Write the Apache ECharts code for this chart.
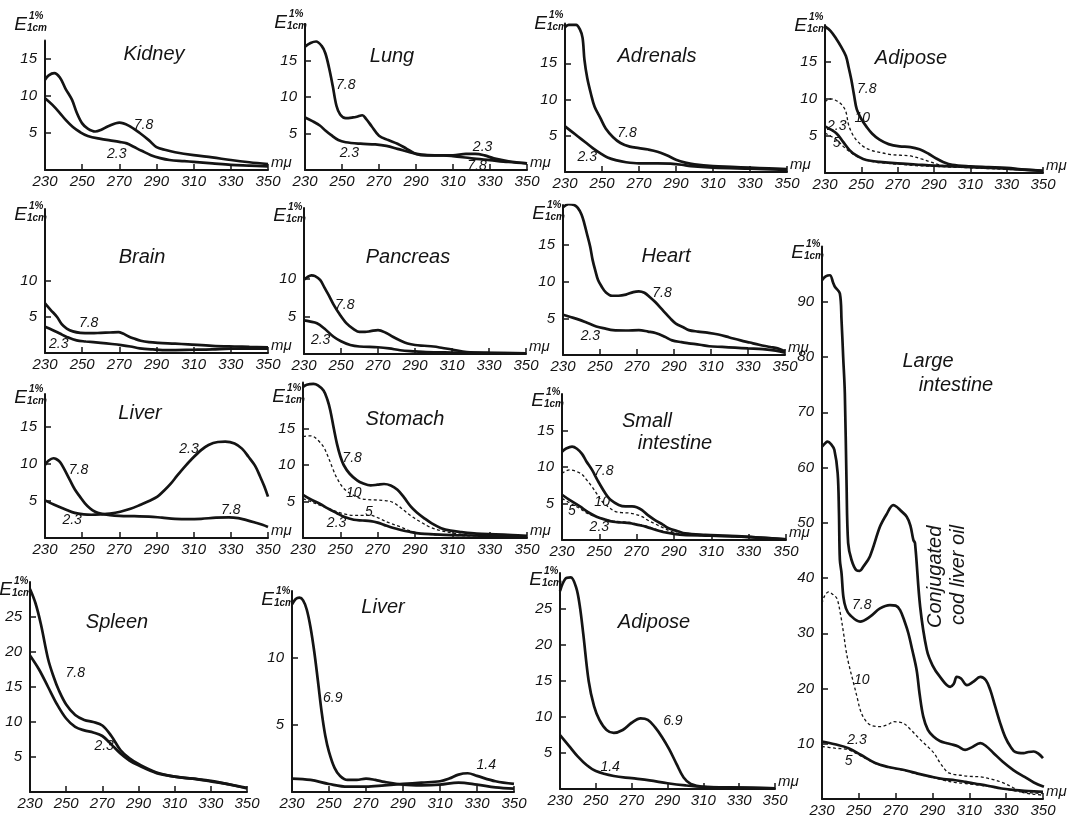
<!DOCTYPE html>
<html><head><meta charset="utf-8">
<script src="https://cdn.jsdelivr.net/npm/echarts@6/dist/echarts.min.js"></script>
<style>html,body{margin:0;padding:0;background:#fff}#c{width:1077px;height:819px}</style>
</head><body><div id="c"></div><script>
// ---------- DATA (wavelength mμ, E 1%/1cm) ----------
const xTicks = [230, 250, 270, 290, 310, 330, 350];

const kidney78 = [[230,12.2],[232,12.8],[235,13.1],[238,12.5],[241,11],[244.5,9.5],[247,7.8],[250,6.3],[253,5.6],[257,5.2],[260,5.4],[264,5.9],[270,6.4],[275,6.0],[281,5.0],[286,4.0],[290,3.1],[295,2.7],[300,2.4],[310,2.0],[320,1.7],[330,1.35],[340,1.05],[350,0.8]];
const kidney23 = [[230,9.7],[234,8.8],[238,7.7],[241,6.8],[245,5.8],[249,5.1],[253,4.6],[260,4.2],[265,4.0],[270,3.8],[274,3.6],[278,3.1],[282,2.6],[287,2.0],[292,1.6],[297,1.35],[305,1.2],[310,1.1],[320,0.9],[330,0.7],[340,0.6],[350,0.5]];

const lung78 = [[230,16.9],[233,17.4],[236,17.6],[239,17.0],[241,16.0],[243,14.0],[245,11.5],[247,8.8],[249,7.6],[252,7.1],[256,7.2],[258,7.3],[261,7.5],[263,7.0],[266,6.0],[270,4.7],[275,4.1],[280,3.6],[285,2.9],[290,2.2],[296,2.0],[305,2.0],[310,1.9],[320,1.6],[330,1.35],[340,1.1],[350,0.9]];
const lung23 = [[230,7.2],[234,6.7],[238,6.1],[241,5.4],[244,4.8],[248,4.1],[252,3.8],[260,3.6],[268,3.5],[274,3.3],[280,2.9],[287,2.4],[293,2.1],[300,2.0],[310,2.0],[317,2.2],[322,2.2],[327,2.0],[332,1.6],[340,1.2],[350,0.9]];

const adrenals78 = [[230,20.0],[232,20.3],[236,20.3],[238,19.7],[239.5,18.5],[240.5,15.5],[242,13.0],[244,10.8],[246,9.0],[249,7.5],[252,6.0],[256,4.8],[260,4.0],[265,3.5],[270,3.3],[275,3.1],[280,2.8],[285,2.3],[290,1.7],[295,1.3],[300,1.05],[310,0.8],[320,0.7],[330,0.6],[340,0.5],[350,0.4]];
const adrenals23 = [[230,6.3],[234,5.5],[237,4.9],[241,4.1],[245,3.3],[249,2.6],[253,2.0],[258,1.6],[263,1.35],[270,1.2],[280,1.2],[287,1.15],[293,1.0],[298,0.8],[310,0.6],[330,0.45],[350,0.3]];

const adiposeA78 = [[230,19.8],[233,19.2],[236,18.2],[239,17.0],[241.5,15.8],[243,14.3],[244.5,12.6],[246,10.5],[247.5,8.6],[250,7.3],[253,6.2],[256,5.3],[260,4.5],[265,3.9],[271,3.6],[277,3.5],[282,3.2],[287,2.6],[291,2.0],[295,1.5],[300,1.1],[310,0.9],[320,0.8],[330,0.7],[340,0.45],[350,0.3]];
const adiposeA10 = [[230,9.6],[232,9.95],[234,10.0],[236,9.8],[238,9.5],[240,9.0],[241.5,8.3],[243,6.5],[245,5.3],[247.5,4.4],[251,3.6],[255,3.1],[260,2.8],[266,2.5],[272,2.4],[277,2.3],[283,1.9],[288,1.5],[293,1.1],[298,0.9],[310,0.8],[330,0.6],[350,0.3]];
const adiposeA23 = [[230,6.3],[233,5.9],[236.5,5.3],[240,4.2],[243.5,3.1],[247,2.4],[251,1.9],[255,1.65],[260,1.5],[270,1.3],[280,1.15],[290,1.0],[300,0.9],[310,0.8],[330,0.6],[350,0.3]];
const adiposeA5 = [[230,5.4],[233,5.0],[236.5,4.5],[240,3.6],[243.5,2.9],[247,2.3],[251,1.9],[255,1.6],[260,1.4],[270,1.2],[280,1.0],[290,0.9],[300,0.8],[310,0.7],[330,0.5],[350,0.3]];

const brain78 = [[230,6.9],[233,6.0],[236.5,5.0],[239,4.0],[241.7,3.4],[245,3.0],[249,2.8],[255,2.75],[260,2.8],[265,2.85],[269.5,2.9],[272,2.7],[275,2.3],[278,2.0],[281.5,1.7],[286,1.5],[291,1.4],[300,1.3],[307,1.2],[320,1.0],[332,0.9],[340,0.85],[350,0.8]];
const brain23 = [[230,3.65],[234,3.2],[238,2.7],[242,2.2],[247,1.75],[252,1.6],[260,1.4],[266,1.25],[271,1.1],[276,0.9],[281,0.65],[288,0.5],[296,0.4],[310,0.45],[320,0.5],[330,0.6],[340,0.6],[350,0.6]];

const pancreas78 = [[230,9.9],[232,10.3],[234,10.5],[236,10.4],[238.7,9.9],[241,8.9],[243.5,7.8],[246,6.6],[249,5.4],[253,4.1],[257,3.3],[260,2.95],[263,2.95],[266,3.05],[270,3.2],[274.5,2.8],[278,2.3],[282,1.8],[286,1.4],[290,1.2],[295,1.1],[300,1.0],[305,0.8],[310,0.6],[318,0.25],[330,0.15],[350,0.1]];
const pancreas23 = [[230,4.5],[233,4.35],[237,4.1],[241,3.4],[246,2.3],[250,1.7],[255,1.2],[260,1.0],[270,0.9],[276,0.75],[282,0.5],[290,0.35],[296,0.25],[310,0.2],[330,0.15],[350,0.1]];

const heart78 = [[230,20.2],[233,20.6],[236,20.5],[238,20.1],[240,19.2],[241.5,18.0],[243,16.5],[244.7,14.8],[246,13.0],[247.5,11.5],[249,10.2],[251,9.3],[253,8.6],[256.5,8.1],[260,8.1],[264,8.25],[268,8.6],[271,8.7],[274,8.5],[277,7.9],[280,7.2],[284,6.1],[288,5.0],[291,4.3],[295,3.8],[298,3.4],[303,3.2],[308,3.05],[314,2.8],[320,2.4],[326,2.0],[331,1.7],[336,1.4],[342,1.1],[346,0.9],[350,0.5]];
const heart23 = [[230,5.5],[234,5.2],[239,4.8],[243,4.4],[248,3.9],[253,3.6],[257,3.4],[264,3.35],[271,3.4],[276,3.2],[280,3.0],[285,2.5],[289,2.0],[294,1.75],[298,1.6],[304,1.4],[309,1.2],[316,1.1],[323,1.0],[330,0.9],[338,0.8],[345,0.6],[350,0.3]];

const liverA78 = [[230,9.9],[232,10.5],[234.5,10.8],[236,10.7],[238,10.3],[240,9.5],[243.5,7.8],[246,6.6],[248.8,5.6],[251.5,4.7],[254.3,4.0],[257,3.55],[260,3.3],[265,3.1],[270,3.0],[278,2.95],[286,2.9],[293,2.75],[300,2.6],[307,2.55],[314,2.6],[322,2.75],[329,2.8],[334,2.7],[338,2.45],[343,2.1],[347,1.8],[350,1.5]];
const liverA23 = [[230,5.1],[235,4.5],[241.7,3.8],[246,3.4],[250.8,3.2],[255,3.15],[260,3.2],[265,3.3],[270.5,3.55],[276,3.95],[281.4,4.5],[286,5.0],[290.5,5.6],[294,6.4],[297.8,7.4],[301,8.4],[305,9.6],[309,10.7],[314,11.9],[318,12.6],[323,13.0],[327,13.05],[332,12.8],[336,12.1],[339.5,11.0],[343,9.8],[345.8,8.3],[348,7.0],[350,5.6]];

const stomach78 = [[230,20.7],[232,21.0],[235.6,21.1],[238,20.9],[241,20.2],[243,19.0],[244.6,17.5],[246.5,15.0],[248.2,12.9],[250,11.2],[251.8,10.0],[255,8.8],[259,7.9],[262,7.5],[266.2,7.2],[270,7.3],[273.4,7.4],[277,7.2],[280.6,6.6],[284,5.6],[287.8,4.3],[291,3.5],[295,2.7],[299,2.0],[304,1.35],[309,1.0],[315,0.8],[323,0.6],[333,0.5],[342,0.4],[350,0.3]];
const stomach10 = [[230,13.9],[233,14.0],[235.6,13.9],[238,13.4],[241,12.5],[243,11.4],[245.5,9.8],[248,8.3],[251.8,6.8],[256,6.0],[260.8,5.4],[265,5.25],[269.8,5.2],[273,5.15],[277,5.0],[280,4.6],[284,3.8],[288,3.0],[293,2.2],[298,1.5],[304,1.0],[310,0.7],[318,0.4],[330,0.3],[350,0.2]];
const stomach5 = [[230,5.4],[234,5.0],[239,4.5],[243,4.1],[248.2,3.6],[252,3.3],[257.2,3.1],[262,3.1],[266.2,3.1],[269,2.9],[271.6,2.6],[276,2.1],[282.4,1.5],[287,1.0],[293,0.6],[300,0.45],[310,0.35],[330,0.25],[350,0.2]];
const stomach23 = [[230,5.9],[234,5.3],[239,4.7],[243,4.1],[248.2,3.4],[252,2.9],[257.2,2.5],[262,2.4],[266.2,2.3],[270,2.1],[273.4,1.8],[278,1.4],[282.4,1.1],[287,0.85],[293,0.6],[300,0.5],[310,0.4],[330,0.3],[350,0.2]];

const smallInt78 = [[230,12.1],[232,12.5],[235.4,12.8],[238,12.5],[240.7,11.8],[243,10.8],[246.1,9.6],[249,8.2],[253.2,6.4],[256,5.5],[260.4,4.8],[264,4.6],[267.5,4.6],[270,4.5],[272.9,4.1],[276,3.4],[280,2.7],[284,2.1],[287.1,1.6],[292,1.2],[296,0.9],[306.8,0.7],[316,0.6],[326.3,0.5],[338,0.3],[350,0.1]];
const smallInt10 = [[230,9.1],[232,9.45],[234,9.6],[237,9.45],[240.7,9.0],[243,8.3],[246.1,7.3],[249,6.2],[251.4,5.3],[255,4.5],[258.6,3.9],[262,3.75],[265.7,3.7],[269,3.55],[272.9,3.2],[276,2.7],[280,2.2],[284,1.7],[289,1.1],[293,0.85],[297.8,0.7],[310,0.55],[330,0.4],[350,0.1]];
const smallInt23 = [[230,6.2],[234,5.5],[239.6,4.6],[244,3.8],[248.5,3.2],[253,2.8],[257.4,2.5],[262,2.4],[266.3,2.3],[270,2.1],[275.2,1.8],[280,1.4],[284.1,1.1],[290,0.85],[294.8,0.7],[310,0.6],[330,0.4],[350,0.1]];
const smallInt5 = [[230,5.7],[234,5.1],[239.6,4.3],[244,3.6],[248.5,3.2],[253,2.85],[257.4,2.6],[262,2.5],[266.3,2.4],[270,2.2],[275.2,1.9],[280,1.5],[284.1,1.2],[290,0.9],[294.8,0.7],[310,0.6],[330,0.4],[350,0.1]];

const largeCod = [[230,93.9],[232,94.6],[234.3,94.8],[236,93.5],[237,92.7],[239.7,91.5],[240.6,86.7],[241.5,80],[242.4,73.4],[243.3,57.7],[244.2,46.3],[246,43.3],[248.7,41.4],[250.5,41.3],[252.3,42],[256,43.9],[261.5,49.3],[265,51.5],[268.7,53.2],[270.5,52.9],[272.4,52.3],[276,51.1],[278,49.5],[279.6,46.9],[280.5,46.3],[283.3,34.8],[286.9,27],[290,24.2],[294.1,22.1],[299.6,20.3],[301.5,20.8],[303.2,22.1],[305.5,21.8],[308.7,20.6],[312,21.2],[316,22.1],[319,21.5],[321.4,19.7],[324,16.8],[326.8,13.7],[329.5,11.2],[332.3,9.5],[335,8.5],[339.5,8.3],[342,8.5],[345,8.6],[347.5,8.2],[350,7.4]];
const large78 = [[230,63.8],[232,64.5],[233,64.7],[235,64.2],[236.7,63.2],[238.5,59],[239.2,52],[239.7,43.3],[240.6,40.9],[241.6,36.6],[243,34.5],[245.2,33.3],[250.7,32.1],[256.1,33],[261.5,34.5],[266.9,35.1],[270,35.0],[272.4,34.2],[275,32],[276.9,30],[279,27],[281.4,23.3],[283,19],[285,14.9],[287.5,12.5],[290.5,11.3],[294,10.5],[297.8,10.1],[301.4,9.8],[304,9.5],[307.7,8.9],[311,9.3],[316,10.1],[319,9.6],[323.2,8.3],[328,6.8],[334.1,5.2],[340,4.0],[345,3.0],[350.5,2.2]];
const large10 = [[230,35.4],[231.5,36.8],[233.6,37.5],[236,37.0],[238.1,36.3],[240,33.5],[241.7,30],[243,27],[244.4,24.6],[247.2,20.9],[249,18.5],[250.8,16.1],[253,14.5],[256.3,13.4],[261.7,13.1],[266,13.5],[269,14.0],[272,13.9],[274.4,13.7],[278,12.6],[283.5,10.7],[287,9.6],[290.8,8.3],[294,6.6],[298,4.9],[301,4.5],[305.2,4.3],[310,4.1],[316,4.0],[322,3.6],[327,3.1],[333,2.2],[338,1.3],[344,0.9],[350,0.7]];
const large23 = [[230,10.4],[237,9.9],[244.4,9.2],[251,8.0],[258.9,6.5],[266,5.8],[275.2,5.2],[282,4.6],[289.7,4.0],[296,3.6],[302.3,3.4],[308,3.1],[313,2.8],[320,2.4],[327.5,1.9],[335,1.6],[342,1.45],[350,1.3]];
const large5 = [[230,9.5],[237,9.2],[244.4,8.9],[251,7.8],[260,6.3],[267,5.7],[275,5.1],[282,4.5],[290,3.9],[296,3.4],[302,3.0],[308,2.8],[313,2.6],[320,2.3],[327,1.9],[333,1.6],[338,1.3],[344,1.1],[350,1.0]];

const spleen78 = [[230,29],[233,27],[236,24],[240,19],[243,16.5],[246,14.5],[250,12.5],[255,11],[260,10.3],[265,10],[270,9.5],[275,8],[280,6],[285,4.8],[290,4],[300,2.8],[310,2.2],[320,1.9],[330,1.6],[340,1.1],[350,0.5]];
const spleen23 = [[230,19.5],[235,17.5],[240,15],[245,12.5],[250,10.5],[255,9.3],[260,8.8],[265,8.5],[270,8.0],[275,6.8],[280,5.5],[285,4.5],[290,3.8],[300,2.7],[310,2.2],[320,1.9],[330,1.5],[340,1.1],[350,0.6]];

const liverB69 = [[230,14.0],[232,14.4],[234,14.5],[236,14.3],[238,13.6],[240,12.3],[242,10.5],[244,8.3],[246,6.0],[248,4.2],[250,3.0],[253,1.8],[256,1.2],[260,0.9],[265,0.9],[270,1.0],[275,0.9],[280,0.75],[290,0.55],[300,0.5],[310,0.55],[320,0.7],[330,0.55],[340,0.35],[350,0.25]];
const liverB14 = [[230,1.0],[240,0.9],[250,0.6],[260,0.4],[270,0.4],[280,0.5],[290,0.6],[300,0.7],[310,0.8],[315,1.0],[320,1.3],[325,1.4],[330,1.2],[340,0.8],[350,0.6]];

const adiposeB69 = [[230,27.5],[233,29.2],[236,29.4],[239,28],[241,25.5],[243,21.5],[246,15],[249,11.5],[252,9.6],[256,8.2],[260,7.8],[265,8.2],[270,9.2],[275,9.8],[279,9.6],[283,8.6],[287,7.2],[291,5.5],[295,3.5],[299,1.6],[303,0.7],[310,0.3],[330,0.2],[350,0.1]];
const adiposeB14 = [[230,7.5],[235,6],[240,4.5],[245,3.3],[250,2.5],[260,1.8],[270,1.5],[280,1.2],[290,0.8],[300,0.5],[310,0.3],[330,0.2],[350,0.1]];

// ---------- LAYOUT ----------
const FONT = '"Liberation Sans", Arial, sans-serif';
const panels = [
  {box:[45,40.5,223,129.5], max:17.5, yl:[5,10,15], curves:[[kidney78],[kidney23]], notes:[[283,6.0,'7.8'],[268.6,2.1,'2.3']], title:[['Kidney',154,54]], eY:25, unit:true},
  {box:[305,24,222,146], max:20, yl:[5,10,15], curves:[[lung78],[lung23]], notes:[[252,11.6,'7.8'],[254,2.3,'2.3'],[326,3.2,'2.3'],[323,0.5,'7.8']], title:[['Lung',392,56]], eY:23, unit:true},
  {box:[565,23.4,222,148.6], max:20.5, yl:[5,10,15], curves:[[adrenals78],[adrenals23]], notes:[[263.5,5.4,'7.8'],[242,2.0,'2.3']], title:[['Adrenals',657,56]], eY:24, unit:true},
  {box:[825,25,218,148], max:20, yl:[5,10,15], curves:[[adiposeA78],[adiposeA10,1],[adiposeA23],[adiposeA5,1]], notes:[[253,11.4,'7.8'],[250.5,7.4,'10'],[236.5,6.4,'2.3'],[236.4,4.0,'5']], title:[['Adipose',911,58]], eY:26, unit:true},
  {box:[45,209,223,144], max:20, yl:[5,10], curves:[[brain78],[brain23]], notes:[[253.5,4.1,'7.8'],[237.4,1.25,'2.3']], title:[['Brain',142,257]], eY:215, unit:true},
  {box:[304,208,222,146], max:19.5, yl:[5,10], curves:[[pancreas78],[pancreas23]], notes:[[252,6.5,'7.8'],[239,1.9,'2.3']], title:[['Pancreas',408,257]], eY:216, unit:true},
  {box:[563,205,222,150], max:20.5, yl:[5,10,15], curves:[[heart78],[heart23]], notes:[[283.5,8.4,'7.8'],[244.8,2.6,'2.3']], title:[['Heart',666,256]], eY:214, unit:true},
  {box:[822,246.5,221,552.5], max:100, iv:10, yl:[10,20,30,40,50,60,70,80,90], curves:[[largeCod],[large78],[large10,1],[large23],[large5,1]], notes:[[251.6,35.1,'7.8'],[251.6,21.5,'10'],[249,10.6,'2.3'],[244.4,6.8,'5']], title:[['Large',928,361],['intestine',956,385]], eY:253, unit:true},
  {box:[45,394,223,144], max:19.5, yl:[5,10,15], curves:[[liverA78],[liverA23]], notes:[[248,9.2,'7.8'],[244.6,2.4,'2.3'],[307.5,12.1,'2.3'],[330,3.8,'7.8']], title:[['Liver',140,413]], eY:398, unit:true},
  {box:[303,382.5,224,155.5], max:21.3, yl:[5,10,15], curves:[[stomach78],[stomach10,1],[stomach5,1],[stomach23]], notes:[[256.3,10.9,'7.8'],[257.2,6.1,'10'],[265.3,3.6,'5'],[248,2.0,'2.3']], title:[['Stomach',405,419]], eY:397, unit:true},
  {box:[562,394,224,146], max:20, yl:[5,10,15], curves:[[smallInt78],[smallInt10,1],[smallInt23],[smallInt5,1]], notes:[[252.4,9.4,'7.8'],[251.5,5.2,'10'],[235.3,3.9,'5'],[250,1.8,'2.3']], title:[['Small',647,421],['intestine',675,443]], eY:401, unit:true},
  {box:[30,582,217,210], max:30, yl:[5,10,15,20,25], curves:[[spleen78],[spleen23]], notes:[[255,17,'7.8'],[271,6.6,'2.3']], title:[['Spleen',117,622]], eY:590, unit:false},
  {box:[292,591,222,201], max:15, yl:[5,10], curves:[[liverB69],[liverB14]], notes:[[252,7.0,'6.9'],[335,2.0,'1.4']], title:[['Liver',383,607]], eY:600, unit:false},
  {box:[560,573,215,216], max:30, yl:[5,10,15,20,25], curves:[[adiposeB69],[adiposeB14]], notes:[[293,9.4,'6.9'],[258,3,'1.4']], title:[['Adipose',654,622]], eY:580, unit:true}
];

const grid = [], xAxis = [], yAxis = [], series = [], graphic = [];
const ink = '#141414';
panels.forEach((p, i) => {
  const [l, t, w, h] = p.box;
  grid.push({left: l, top: t, width: w, height: h, containLabel: false});
  xAxis.push({
    type: 'value', gridIndex: i, min: 230, max: 350, interval: 20,
    name: p.unit ? 'mμ' : '', nameLocation: 'end', nameGap: 3,
    nameTextStyle: {fontFamily: FONT, fontStyle: 'italic', fontSize: 15, color: ink, verticalAlign: 'bottom'},
    axisLine: {show: true, onZero: false, lineStyle: {color: ink, width: 2}},
    axisTick: {show: true, inside: true, length: 6, lineStyle: {color: ink, width: 1.5}},
    axisLabel: {show: true, color: ink, fontFamily: FONT, fontStyle: 'italic', fontSize: 15, margin: 4,
      customValues: xTicks},
    splitLine: {show: false}
  });
  yAxis.push({
    type: 'value', gridIndex: i, min: 0, max: p.max, interval: p.iv || 5,
    axisLine: {show: true, onZero: false, lineStyle: {color: ink, width: 2}},
    axisTick: {show: true, inside: true, length: 6, lineStyle: {color: ink, width: 1.5}, customValues: p.yl},
    axisLabel: {show: true, color: ink, fontFamily: FONT, fontStyle: 'italic', fontSize: 15, margin: 8, customValues: p.yl},
    splitLine: {show: false}
  });
  p.curves.forEach(c => {
    const dashed = !!c[1];
    series.push({
      type: 'line', xAxisIndex: i, yAxisIndex: i, data: c[0], showSymbol: false, smooth: 0.35,
      animation: false, silent: true,
      lineStyle: {color: ink, width: dashed ? 1.3 : 2.7, type: dashed ? [3, 2.5] : 'solid'}
    });
  });
  series.push({
    type: 'scatter', xAxisIndex: i, yAxisIndex: i, symbol: 'circle', symbolSize: 2, animation: false, silent: true,
    itemStyle: {color: 'rgba(255,255,255,0)'}, z: 5,
    data: p.notes.map(n => [n[0], n[1], n[2]]),
    label: {show: true, position: 'inside', formatter: q => q.value[2], color: ink, opacity: 1,
      fontFamily: FONT, fontStyle: 'italic', fontSize: 14},
    labelLayout: {hideOverlap: false}
  });
  p.title.forEach(tt => graphic.push({type: 'text', x: tt[1], y: tt[2], silent: true,
    style: {text: tt[0], font: 'italic 20px ' + FONT, fill: ink, textAlign: 'center', textVerticalAlign: 'middle'}}));
  // E 1% / 1cm axis label
  graphic.push({type: 'text', x: l - 18, y: p.eY, silent: true,
    style: {text: 'E', font: 'italic 19px ' + FONT, fill: ink, textAlign: 'right', textVerticalAlign: 'middle'}});
  graphic.push({type: 'text', x: l - 16, y: p.eY - 9, silent: true,
    style: {text: '1%', font: 'italic bold 10px ' + FONT, fill: ink, textAlign: 'left', textVerticalAlign: 'middle'}});
  graphic.push({type: 'text', x: l - 18, y: p.eY + 3, silent: true,
    style: {text: '1cm', font: 'italic bold 10px ' + FONT, fill: ink, textAlign: 'left', textVerticalAlign: 'middle'}});
});
graphic.push({type: 'text', x: 935, y: 628, rotation: Math.PI / 2, silent: true,
  style: {text: 'Conjugated', font: 'italic 20px ' + FONT, fill: ink, textAlign: 'left', textVerticalAlign: 'middle'}});
graphic.push({type: 'text', x: 958, y: 625, rotation: Math.PI / 2, silent: true,
  style: {text: 'cod liver oil', font: 'italic 20px ' + FONT, fill: ink, textAlign: 'left', textVerticalAlign: 'middle'}});

const chart = echarts.init(document.getElementById('c'), null, {renderer: 'canvas'});
chart.setOption({backgroundColor: '#fff', animation: false, grid, xAxis, yAxis, series, graphic});
</script></body></html>
